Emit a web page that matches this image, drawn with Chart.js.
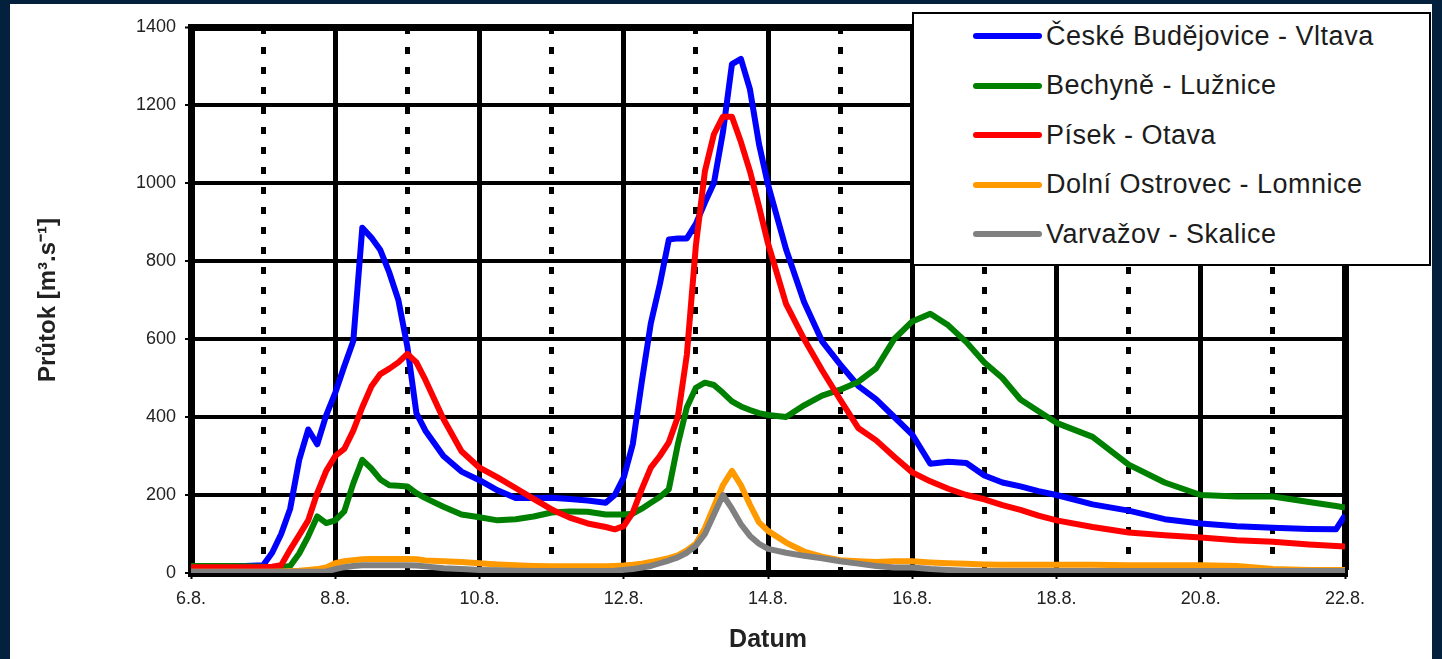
<!DOCTYPE html>
<html>
<head>
<meta charset="utf-8">
<script src="https://cdn.jsdelivr.net/npm/chart.js@4"></script>
<style>
  html, body { margin: 0; padding: 0; width: 1442px; height: 659px; overflow: hidden; background: #03203d; }
  #panel { position: absolute; left: 10px; top: 4px; width: 1422px; height: 655px; background: #fff; }
  #chart { position: absolute; left: 0; top: 0; }
  #legend {
    position: absolute; left: 902px; top: 8px; width: 515px; height: 250px;
    border: 2px solid #000; background: #fff;
    font-family: 'Liberation Sans', Arial, sans-serif;
  }
  #legend .row { position: absolute; left: 0; height: 30px; display: flex; align-items: center; }
  #legend .swatch { width: 69px; height: 6px; border-radius: 3px; margin-left: 59px; }
  #legend .label { margin-left: 4px; font-size: 27px; letter-spacing: 0.5px; color: #1c1c1c; white-space: nowrap; }
</style>
</head>
<body>
<div id="panel">
  <canvas id="chart" width="1422" height="655"></canvas>
  <div id="legend"></div>
</div>
<script>
// days since 6.8.
const days = [0, 0.5, 0.75,
  1, 1.125, 1.25, 1.375, 1.5, 1.625, 1.75, 1.875,
  2, 2.125, 2.25, 2.375, 2.5, 2.625, 2.75, 2.875,
  3, 3.125, 3.25, 3.5, 3.75,
  4, 4.25, 4.5, 4.75,
  5, 5.25, 5.5, 5.75, 5.875,
  6, 6.125, 6.25, 6.375, 6.5, 6.625, 6.75, 6.875,
  7, 7.125, 7.25, 7.375, 7.5, 7.625, 7.75, 7.875,
  8, 8.25, 8.5, 8.75,
  9, 9.25, 9.5, 9.75,
  10, 10.25, 10.5, 10.75,
  11, 11.25, 11.5, 11.75,
  12, 12.5, 13, 13.5, 14, 14.5, 15, 15.5, 15.875, 16];

const cbVltava = [18, 18, 18,
  20, 52, 100, 165, 290, 368, 330, 405,
  462, 530, 595, 885, 860, 828, 770, 700,
  580, 410, 365, 300, 260,
  238, 212, 192, 192,
  193, 190, 186, 180, 200,
  245, 330, 490, 640, 740, 855, 858, 858,
  895, 950, 1000, 1130, 1305, 1318, 1240, 1100,
  996, 830, 695, 594,
  535, 480, 445, 400,
  355, 280, 285, 282,
  250, 232, 222, 210,
  200, 176, 160, 138, 127, 120, 116, 113, 112, 148];

const bechyneLuznice = [18, 18, 17,
  16, 15, 15, 18, 50, 94, 145, 128,
  135, 158, 230, 290, 268, 240, 225, 224,
  222, 205, 192, 170, 150,
  143, 135, 138, 145,
  155, 158, 157, 150, 150,
  150, 152, 165, 180, 195, 215, 330, 425,
  475, 488, 482, 462, 440, 427, 418, 410,
  405, 400, 430, 455,
  470, 490, 525, 600,
  645, 665, 635, 592,
  540, 500, 445, 415,
  385, 349, 278, 232, 200, 196, 196, 182, 172, 168];

const pisekOtava = [15, 15, 15,
  15, 16, 20, 60, 97, 135, 205, 262,
  300, 318, 365, 425, 478, 510, 524, 540,
  562, 540, 495, 395, 312,
  270, 245, 218, 190,
  163, 142, 127, 118, 112,
  120, 155, 215, 270, 300, 335, 400, 560,
  840, 1030, 1125, 1170, 1170, 1105, 1030, 940,
  845, 690, 600, 520,
  445, 372, 340, 298,
  258, 235, 216, 200,
  189, 174, 162, 147,
  135, 118, 104, 97, 91, 84, 80, 73, 69, 68];

const dolniOstrovecLomnice = [3, 3, 3,
  3, 3, 4, 5, 6, 8, 10, 14,
  25, 30, 33, 35, 36, 36, 36, 36,
  36, 35, 32, 30, 28,
  25, 22, 20, 18,
  17, 17, 17, 17, 18,
  19, 21, 24, 28, 33, 38, 45, 58,
  75, 115, 170, 225, 262, 225, 175, 130,
  108, 78, 55, 42,
  33, 30, 28, 30,
  30, 27, 25, 24,
  22, 21, 21, 21,
  21, 21, 20, 20, 20, 18, 10, 8, 8, 8];

const varvazovSkalice = [3, 3, 3,
  3, 3, 3, 3, 3, 3, 3, 4,
  10, 15, 18, 20, 20, 20, 20, 20,
  20, 19, 17, 12, 10,
  8, 7, 6, 5,
  5, 5, 5, 5, 6,
  8, 10, 14, 18, 25, 32, 40, 52,
  70, 100, 150, 200, 165, 125, 95, 75,
  62, 52, 44, 38,
  30, 24, 18, 14,
  14, 10, 8, 6,
  5, 5, 5, 5,
  5, 5, 5, 5, 5, 5, 5, 5, 5, 5];

const seriesValues = [cbVltava, bechyneLuznice, pisekOtava, dolniOstrovecLomnice, varvazovSkalice];
const seriesNames = ['České Budějovice - Vltava', 'Bechyně - Lužnice', 'Písek - Otava', 'Dolní Ostrovec - Lomnice', 'Varvažov - Skalice'];
const seriesColors = ['#0000ff', '#008000', '#ff0000', '#ff9900', '#808080'];

const dateLabels = ['6.8.', '8.8.', '10.8.', '12.8.', '14.8.', '16.8.', '18.8.', '20.8.', '22.8.'];
const dottedDays = [1, 3, 5, 7, 9, 11, 13, 15];
const yTicks = [0, 200, 400, 600, 800, 1000, 1200, 1400];

const FONT = "'Liberation Sans', Arial, sans-serif";
Chart.defaults.font.family = FONT;
Chart.defaults.color = '#222';

const ctx = document.getElementById('chart').getContext('2d');

new Chart(ctx, {
    type: 'line',
    data: {
        datasets: seriesValues.map((vals, i) => ({
            label: seriesNames[i],
            data: days.map((d, j) => ({ x: d, y: vals[j] })),
            borderColor: seriesColors[i],
            backgroundColor: seriesColors[i],
            borderWidth: 6,
            borderJoinStyle: 'round',
            pointRadius: 0,
            tension: 0,
            // later series on top, like the original
            order: seriesValues.length - i
        }))
    },
    options: {
        responsive: false,
        animation: false,
        layout: { padding: { left: 0, top: 23, right: 87, bottom: 0 } },
        plugins: {
            legend: { display: false },
            tooltip: { enabled: false }
        },
        scales: {
            x: {
                type: 'linear',
                position: 'bottom',
                min: 0,
                max: 16,
                afterBuildTicks: (axis) => { axis.ticks = dateLabels.map((_, i) => ({ value: i * 2 })); },
                afterFit: (axis) => { axis.height = 86; },
                ticks: {
                    callback: (v) => dateLabels[v / 2],
                    font: { size: 18 },
                    color: '#222',
                    padding: 9,
                    maxRotation: 0,
                    autoSkip: false
                },
                grid: {
                    color: '#000',
                    lineWidth: (c) => (c.tick && c.tick.value === 16 ? 7 : 5),
                    tickLength: 6,
                    tickWidth: 2
                },
                border: { color: '#000', width: 7 },
                title: {
                    display: true,
                    text: 'Datum',
                    font: { size: 25, weight: 'bold' },
                    color: '#222',
                    padding: { top: 0, bottom: 4 }
                }
            },
            xDots: {
                type: 'linear',
                position: 'top',
                min: 0,
                max: 16,
                afterBuildTicks: (axis) => { axis.ticks = dottedDays.map((v) => ({ value: v })); },
                afterFit: (axis) => { axis.height = 0; },
                ticks: { display: false },
                grid: { color: '#000', lineWidth: 5, drawTicks: false },
                border: { display: false, dash: [7, 13] }
            },
            y: {
                min: 0,
                max: 1400,
                afterBuildTicks: (axis) => { axis.ticks = yTicks.map((v) => ({ value: v })); },
                afterFit: (axis) => { axis.width = 181; },
                ticks: { callback: (v) => String(v), font: { size: 18 }, color: '#222', padding: 9 },
                grid: {
                    color: '#000',
                    lineWidth: (c) => (c.tick && c.tick.value === 1400 ? 7 : 4),
                    tickLength: 6,
                    tickWidth: 2
                },
                border: { color: '#000', width: 7 },
                title: {
                    display: true,
                    text: 'Průtok [m³.s⁻¹]',
                    font: { size: 24, weight: 'bold' },
                    color: '#222',
                    padding: { top: 24, bottom: 0 }
                }
            }
        }
    }
});

// Legend box drawn over the plot, top right
const legendEl = document.getElementById('legend');
seriesNames.forEach((name, i) => {
    const row = document.createElement('div');
    row.className = 'row';
    row.style.top = (22 + i * 49.5 - 15) + 'px';
    row.innerHTML = '<span class="swatch" style="background:' + seriesColors[i] + '"></span>' +
        '<span class="label">' + name + '</span>';
    legendEl.appendChild(row);
});
</script>
</body>
</html>
